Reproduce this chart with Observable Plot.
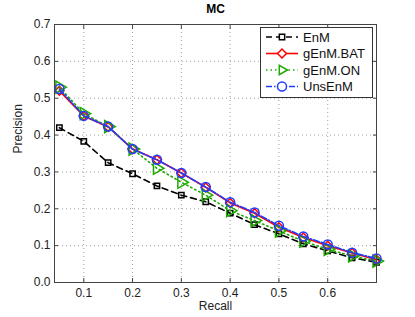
<!DOCTYPE html>
<html><head><meta charset="utf-8">
<script src="https://cdn.jsdelivr.net/npm/d3@7"></script>
<script src="https://cdn.jsdelivr.net/npm/@observablehq/plot@0.6"></script>
<style>
body{margin:0;background:#fff;font-family:"Liberation Sans",Arial,sans-serif;}
#wrap{position:relative;width:415px;height:317px;}
#legend{position:absolute;left:260px;top:27px;}
</style></head>
<body><div id="wrap"><div id="chart"></div><div id="legend"></div></div>
<script>
const recall = [0.05,0.1,0.15,0.2,0.25,0.3,0.35,0.4,0.45,0.5,0.55,0.6,0.65,0.7];
const EnM     = [0.420,0.383,0.325,0.295,0.262,0.237,0.219,0.188,0.157,0.132,0.105,0.086,0.067,0.055];
const gEnMBAT = [0.520,0.452,0.422,0.362,0.333,0.297,0.258,0.216,0.188,0.150,0.122,0.100,0.080,0.062];
const gEnMON  = [0.530,0.458,0.423,0.362,0.310,0.272,0.237,0.195,0.168,0.140,0.112,0.090,0.072,0.058];
const UnsEnM  = [0.525,0.452,0.423,0.362,0.333,0.297,0.259,0.218,0.190,0.154,0.125,0.103,0.081,0.065];
const xTicks = [0.1,0.2,0.3,0.4,0.5,0.6];
const yTicks = [0,0.1,0.2,0.3,0.4,0.5,0.6,0.7];

const seriesNames = ["EnM","gEnM.BAT","gEnM.ON","UnsEnM"];
const seriesVals = [EnM,gEnMBAT,gEnMON,UnsEnM];
const styles = [
  {color:"#000000", dash:"6,4", symbol:"square", rotate:0, r:3},
  {color:"#ff0000", dash:null, symbol:"diamond2", rotate:0, r:4},
  {color:"#1faa00", dash:"1.5,3", symbol:"triangle", rotate:90, r:4.5},
  {color:"#1f3cff", dash:"6,2,1.5,2", symbol:"circle", rotate:0, r:4.5}
];
const marks = [];
marks.push(Plot.gridX(xTicks,{stroke:"#888",strokeOpacity:0.8,strokeDasharray:"1,3"}));
marks.push(Plot.gridY(yTicks,{stroke:"#888",strokeOpacity:0.8,strokeDasharray:"1,3"}));
seriesNames.forEach((name,i)=>{
  const s = styles[i];
  const data = recall.map((r,j)=>({r, p: seriesVals[i][j]}));
  marks.push(Plot.line(data,{x:"r",y:"p",stroke:s.color,strokeWidth:1.6,strokeDasharray:s.dash}));
  marks.push(Plot.dot(data,{x:"r",y:"p",stroke:s.color,strokeWidth:1.5,symbol:s.symbol,r:s.r,rotate:s.rotate,fill:"none"}));
});
marks.push(Plot.frame({stroke:"#444",strokeWidth:1}));
marks.push(Plot.axisX(xTicks,{anchor:"bottom",label:null,tickSize:-4,tickPadding:10,stroke:"#444",fontSize:12,fill:"#222"}));
marks.push(Plot.axisX(xTicks,{anchor:"top",label:null,tickSize:-4,tickFormat:()=>"",stroke:"#444"}));
marks.push(Plot.axisY(yTicks,{anchor:"left",label:null,tickSize:-4,tickPadding:8,stroke:"#444",fontSize:12,fill:"#222"}));
marks.push(Plot.axisY(yTicks,{anchor:"right",label:null,tickSize:-4,tickFormat:()=>"",stroke:"#444"}));
marks.push(Plot.text(["MC"],{frameAnchor:"top",lineAnchor:"middle",dy:-15,fontWeight:"bold",fontSize:12,fill:"#000"}));
marks.push(Plot.text(["Recall"],{frameAnchor:"bottom",lineAnchor:"middle",dy:24,fontSize:12,fill:"#222"}));
marks.push(Plot.text(["Precision"],{frameAnchor:"left",dx:-36,rotate:-90,fontSize:12,fill:"#222"}));

const chart = Plot.plot({
  width:415, height:317,
  marginLeft:54, marginRight:39, marginTop:24, marginBottom:35,
  style:{fontFamily:"'Liberation Sans', Arial, sans-serif", background:"#fff", overflow:"visible"},
  x:{domain:[0.04,0.70], label:null},
  y:{domain:[0,0.7], label:null},
  marks
});
document.getElementById("chart").appendChild(chart);

// legend
const lw=113, lh=71;
const svg = d3.select("#legend").append("svg").attr("width",lw).attr("height",lh);
svg.append("rect").attr("x",0.5).attr("y",0.5).attr("width",lw-1).attr("height",lh-1).attr("fill","#fff").attr("stroke","#333").attr("stroke-width",1);
const sym = {square:d3.symbolSquare, diamond2:d3.symbolDiamond2, triangle:d3.symbolTriangle2, circle:d3.symbolCircle};
seriesNames.forEach((name,i)=>{
  const s=styles[i], y=10+i*16.5;
  svg.append("line").attr("x1",6).attr("x2",38).attr("y1",y).attr("y2",y).attr("stroke",s.color).attr("stroke-width",1.6).attr("stroke-dasharray",s.dash);
  const size = Math.PI*s.r*s.r;
  svg.append("path").attr("d",d3.symbol(sym[s.symbol],size)()).attr("transform",`translate(22,${y}) rotate(${s.rotate})`).attr("fill","#fff").attr("stroke",s.color).attr("stroke-width",1.5);
  svg.append("text").attr("x",43).attr("y",y+4.5).text(name).attr("font-size",13).attr("fill","#111").attr("font-family","'Liberation Sans', Arial, sans-serif");
});
</script></body></html>
